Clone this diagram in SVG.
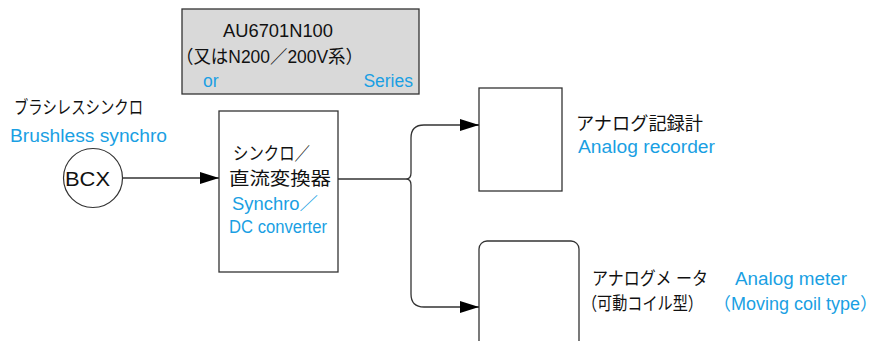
<svg xmlns="http://www.w3.org/2000/svg" width="880" height="341" viewBox="0 0 880 341">
<defs>
<style>
.t{font-family:"Liberation Sans","Noto Sans CJK JP",sans-serif;font-size:18px;fill:#111}
.b{font-family:"Liberation Sans","Noto Sans CJK JP",sans-serif;font-size:17.5px;fill:#1a9fe3}
.box{fill:#fff;stroke:#333;stroke-width:1.3}
.ln{fill:none;stroke:#333;stroke-width:1.3}
</style>
<marker id="ah" markerUnits="userSpaceOnUse" markerWidth="20" markerHeight="12" refX="19" refY="6" orient="auto">
<path d="M0,0 L19,6 L0,12 Z" fill="#000"/>
</marker>
</defs>
<rect width="880" height="341" fill="#fff"/>
<g id="series">
<rect x="182" y="9" width="237" height="85" fill="#d9d9d9" stroke="#333" stroke-width="1.3"/>
<text class="t" x="223" y="37" textLength="110" lengthAdjust="spacingAndGlyphs">AU6701N100</text>
<text class="t" x="176" y="63" textLength="187" lengthAdjust="spacingAndGlyphs">（又はN200／200V系）</text>
<text class="b" x="203" y="87">or</text>
<text class="b" x="413" y="87" text-anchor="end">Series</text>
</g>
<g id="bcx">
<text class="t" x="14" y="114" textLength="129" lengthAdjust="spacingAndGlyphs">ブラシレスシンクロ</text>
<text class="b" x="10" y="142" textLength="157" lengthAdjust="spacingAndGlyphs">Brushless synchro</text>
<circle cx="93" cy="178" r="29.5" fill="#fff" stroke="#333" stroke-width="1.2"/>
<text class="t" x="65" y="186" style="font-size:21px" textLength="45" lengthAdjust="spacingAndGlyphs">BCX</text>
</g>
<g id="converter">
<rect class="box" x="219" y="111" width="119" height="161"/>
<text class="t" x="233" y="160" textLength="77" lengthAdjust="spacingAndGlyphs">シンクロ／</text>
<text class="t" x="229" y="185" textLength="102" lengthAdjust="spacingAndGlyphs">直流変換器</text>
<text class="b" x="232" y="210" textLength="86" lengthAdjust="spacingAndGlyphs">Synchro／</text>
<text class="b" x="229" y="233" textLength="98" lengthAdjust="spacingAndGlyphs">DC converter</text>
</g>
<g id="recorder">
<rect class="box" x="479" y="88" width="83" height="103"/>
<text class="t" x="576" y="130" textLength="127" lengthAdjust="spacingAndGlyphs">アナログ記録計</text>
<text class="b" x="578" y="153" textLength="137" lengthAdjust="spacingAndGlyphs">Analog recorder</text>
</g>
<g id="meter">
<rect class="box" x="479" y="241" width="100" height="130" rx="8" ry="8"/>
<text class="t" x="592" y="285" textLength="116" lengthAdjust="spacingAndGlyphs">アナログメ ータ</text>
<text class="b" x="735" y="285" textLength="112" lengthAdjust="spacingAndGlyphs">Analog meter</text>
<text class="t" x="582" y="310" textLength="121" lengthAdjust="spacingAndGlyphs">（可動コイル型）</text>
<text class="b" x="713" y="310" textLength="165" lengthAdjust="spacingAndGlyphs">（Moving coil type）</text>
</g>
<g id="connectors">
<path class="ln" d="M123,178 H219" marker-end="url(#ah)"/>
<path class="ln" d="M338,179 H406"/>
<path class="ln" d="M479,125 H424 Q411,125 411,138 V173 Q411,179 406,179 Q411,179 411,185 V294 Q411,307 424,307 H479" marker-end="url(#ah)"/>
<path class="ln" d="M460,125 H479" marker-end="url(#ah)"/>
</g>
</svg>
